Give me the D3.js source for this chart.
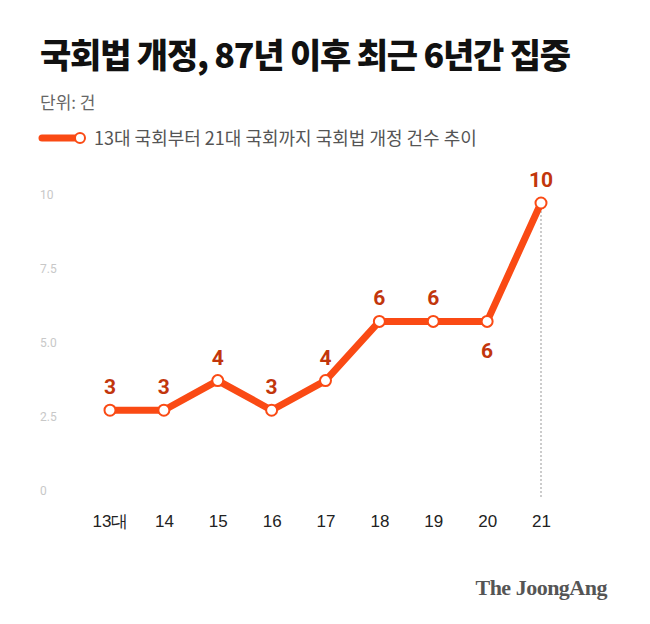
<!DOCTYPE html>
<html><head><meta charset="utf-8">
<script src="https://cdn.jsdelivr.net/npm/d3@7"></script>
<style>body{margin:0;background:#fff;font-family:"Noto Sans CJK KR","Noto Sans",sans-serif;}</style>
</head><body><div id="chart"></div>
<script>
const categories = ['13대', '14', '15', '16', '17', '18', '19', '20', '21'];
const values = [3, 3, 4, 3, 4, 6, 6, 6, 10];
const yTicks = [0, 2.5, 5, 7.5, 10];
const yTickLabels = ['0', '2.5', '5.0', '7.5', '10'];

const W = 650, H = 624;
const lineColor = '#fa4a14', labelColor = '#c2360c';

const svg = d3.select('#chart').append('svg').attr('width', W).attr('height', H);

svg.append('text').attr('x', 40).attr('y', 68)
  .attr('font-size', 34).attr('font-weight', 900).attr('fill', '#111')
  .attr('letter-spacing', -1.2)
  .text('국회법 개정, 87년 이후 최근 6년간 집중');
svg.append('text').attr('x', 40).attr('y', 109)
  .attr('font-size', 17).attr('fill', '#666').text('단위: 건');

const legend = svg.append('g').attr('transform', 'translate(42,138)');
legend.append('line').attr('x1', 0).attr('x2', 36).attr('stroke', lineColor)
  .attr('stroke-width', 7).attr('stroke-linecap', 'round');
legend.append('circle').attr('cx', 38).attr('r', 5).attr('fill', '#fff')
  .attr('stroke', lineColor).attr('stroke-width', 2);
legend.append('text').attr('x', 52).attr('y', 7).attr('font-size', 18)
  .attr('fill', '#555').text('13대 국회부터 21대 국회까지 국회법 개정 건수 추이');

const x = d3.scalePoint().domain(categories).range([110, 541]);
const y = d3.scaleLinear().domain([0, 10]).range([499, 203]);

const yAxis = svg.append('g').attr('transform', 'translate(40,0)')
  .call(d3.axisLeft(y).tickValues(yTicks).tickSize(0).tickFormat((d, i) => yTickLabels[i]));
yAxis.select('.domain').remove();
yAxis.selectAll('text').attr('x', 0).attr('dy', -5).attr('text-anchor', 'start')
  .attr('font-size', 12).attr('fill', '#c8c8c8').attr('font-family', 'Roboto, sans-serif');

const xAxis = svg.append('g').attr('transform', 'translate(0,510)')
  .call(d3.axisBottom(x).tickSize(0));
xAxis.select('.domain').remove();
xAxis.selectAll('text').attr('font-size', 17).attr('fill', '#222').attr('dy', '0.85em');

svg.append('line').attr('x1', x('21')).attr('x2', x('21'))
  .attr('y1', y(10)).attr('y2', y(0)).attr('stroke', '#999')
  .attr('stroke-dasharray', '2,2');

svg.append('path').datum(values)
  .attr('d', d3.line().x((d, i) => x(categories[i])).y(d => y(d)))
  .attr('fill', 'none').attr('stroke', lineColor).attr('stroke-width', 7)
  .attr('stroke-linejoin', 'round');

svg.selectAll('.pt').data(values).enter().append('circle')
  .attr('cx', (d, i) => x(categories[i])).attr('cy', d => y(d)).attr('r', 5.5)
  .attr('fill', '#fff').attr('stroke', lineColor).attr('stroke-width', 2);

svg.selectAll('.lbl').data(values).enter().append('text')
  .attr('x', (d, i) => x(categories[i]))
  .attr('y', (d, i) => i === 7 ? y(d) + 37 : y(d) - 16)
  .attr('text-anchor', 'middle').attr('font-size', 21).attr('font-weight', 700)
  .attr('fill', labelColor).attr('font-family', 'Roboto, sans-serif')
  .text(d => d);

svg.append('text').attr('x', 607).attr('y', 595).attr('text-anchor', 'end')
  .attr('font-family', '"Liberation Serif", serif').attr('font-weight', 700)
  .attr('font-size', 22).attr('fill', '#555').attr('letter-spacing', -0.5)
  .text('The JoongAng');
</script></body></html>
